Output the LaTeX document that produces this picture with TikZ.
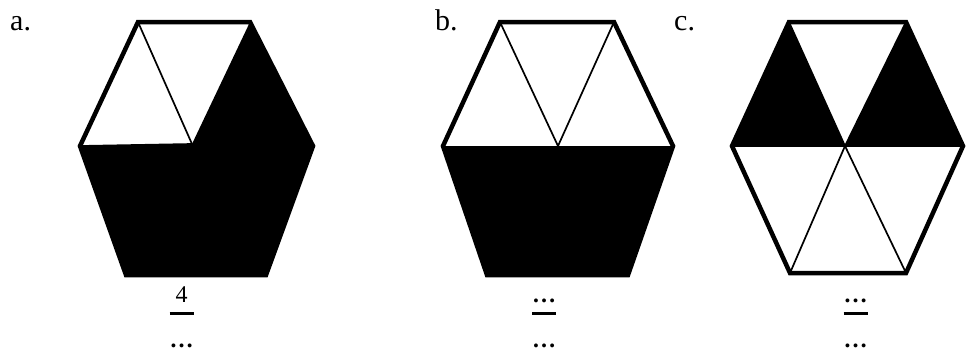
\documentclass[tikz,border=0pt]{standalone}
\usepackage{fontspec}
\setmainfont{Liberation Serif}
\usetikzlibrary{positioning}
\tikzset{
  rim/.style={line width=4.5pt, line join=miter},
  cut/.style={line width=1.7pt},
  tag/.style={anchor=base west, inner sep=0pt, font=\fontsize{30}{36}\selectfont},
  fracpart/.style={anchor=base, inner sep=0pt, font=\fontsize{24}{28}\selectfont},
}

\begin{document}
\begin{tikzpicture}[x=1pt, y=-1pt]
  \useasboundingbox (0,0) rectangle (969,360);
  % Hexagon a
  \coordinate (aTL) at (138,22);  \coordinate (aTR) at (250,22);
  \coordinate (aL)  at (80,146);  \coordinate (aR)  at (313,146);
  \coordinate (aBL) at (126,275); \coordinate (aBR) at (266,275);
  \coordinate (aC)  at (192,144);
  \fill (aTR) -- (aR) -- (aBR) -- (aBL) -- (aL) -- (aC) -- cycle;
  \draw [cut] (aTL) -- (aC) -- (aL);
  \draw [rim] (aTL) -- (aTR) -- (aR) -- (aBR) -- (aBL) -- (aL) -- cycle;
  % Hexagon b
  \coordinate (bTL) at (500,22);  \coordinate (bTR) at (614,22);
  \coordinate (bL)  at (443,146); \coordinate (bR)  at (673,146);
  \coordinate (bBL) at (487,275); \coordinate (bBR) at (628,275);
  \coordinate (bC)  at (558,146);
  \fill (bL) -- (bR) -- (bBR) -- (bBL) -- cycle;
  \draw [cut] (bTL) -- (bC) -- (bTR);
  \draw [rim] (bTL) -- (bTR) -- (bR) -- (bBR) -- (bBL) -- (bL) -- cycle;
  % Hexagon c
  \coordinate (cTL) at (789,22);  \coordinate (cTR) at (906,22);
  \coordinate (cL)  at (732,146); \coordinate (cR)  at (963,146);
  \coordinate (cBL) at (790,273); \coordinate (cBR) at (906,273);
  \coordinate (cC)  at (845,146);
  \fill (cTL) -- (cL) -- (cC) -- cycle;
  \fill (cTR) -- (cR) -- (cC) -- cycle;
  \draw [cut] (cTL) -- (cC) -- (cTR);
  \draw [cut] (cBL) -- (cC) -- (cBR);
  \draw [cut] (cL) -- (cR);
  \draw [rim] (cTL) -- (cTR) -- (cR) -- (cBR) -- (cBL) -- (cL) -- cycle;
  % Labels
  \node [tag] (tagA) at (10,30)  {a.};
  \node [tag] (tagB) at (435,30) {b.};
  \node [tag] (tagC) at (674,30) {c.};
  % Fractions
  \foreach \x/\n/\name in {181.5/4/A, 544/\bfseries…/B, 855.5/\bfseries…/C} {
    \node [fracpart] (num\name) at (\x,302) {\n};
    \node [fracpart] (den\name) at (\x,347) {\bfseries…};
    \draw [line width=3pt] (\x-12,313) -- (\x+12,313);
  }
\end{tikzpicture}
\end{document}
